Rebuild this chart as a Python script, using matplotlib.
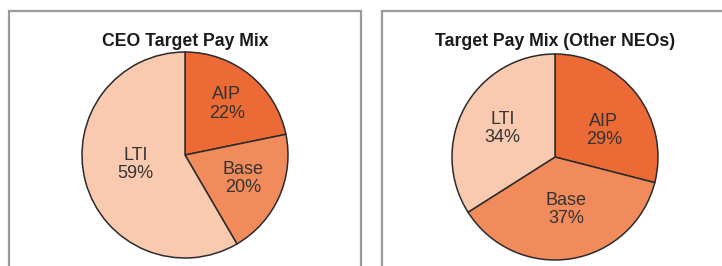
import numpy as np
import matplotlib
matplotlib.use("Agg")
from matplotlib import pyplot as plt
from matplotlib.patches import Rectangle

plt.rcParams['font.family'] = ['Liberation Sans', 'DejaVu Sans']

# data
labels = ["AIP", "Base", "LTI"]
ceo_pct = [22, 20, 59]
neo_pct = [29, 37, 34]
titles = ["CEO Target Pay Mix", "Target Pay Mix (Other NEOs)"]

colors = ["#EC6A35", "#F18B5C", "#F9CAB0"]
edge = "#2b2b2b"
txt = "#333333"

W, H = 722, 266
fig = plt.figure(figsize=(W / 100, H / 100), dpi=100)

# panel frames (pixel boxes, bottom runs off the picture)
for x0, x1 in [(8.5, 360.5), (381.5, 730)]:
    fig.patches.append(Rectangle((x0 / W, -0.1), (x1 - x0) / W, 1.1 - 10.5 / H,
                                 transform=fig.transFigure, fill=False,
                                 edgecolor="#9a9a9a", linewidth=1.6))


def draw_pie(cx, cy, r, pct, title, label_r, label_nudge):
    ax = fig.add_axes([(cx - r) / W, (H - cy - r) / H, 2 * r / W, 2 * r / H])
    wedges, _ = ax.pie(pct, colors=colors, startangle=90, counterclock=False,
                       wedgeprops=dict(edgecolor=edge, linewidth=1.1))
    ax.set_xlim(-1, 1)
    ax.set_ylim(-1, 1)
    ax.set_aspect("equal")
    ax.axis("off")
    for w, name, p, lr, nd in zip(wedges, labels, pct, label_r, label_nudge):
        a = np.deg2rad((w.theta1 + w.theta2) / 2 + nd)
        ax.text(lr * np.cos(a), lr * np.sin(a), "%s\n%d%%" % (name, p),
                ha="center", va="center", fontsize=13, color=txt,
                linespacing=1.1)
    fig.text(cx / W, (H - 45.5) / H, title, ha="center", va="baseline",
             fontsize=12.7, fontweight="bold", color="#1a1a1a")


draw_pie(185, 155, 103, ceo_pct, titles[0], [0.64, 0.61, 0.49], [0, 2, -4])
draw_pie(555, 157, 103, neo_pct, titles[1], [0.54, 0.52, 0.58], [-9, 3, 0])

fig.savefig("out.png", dpi=100)
